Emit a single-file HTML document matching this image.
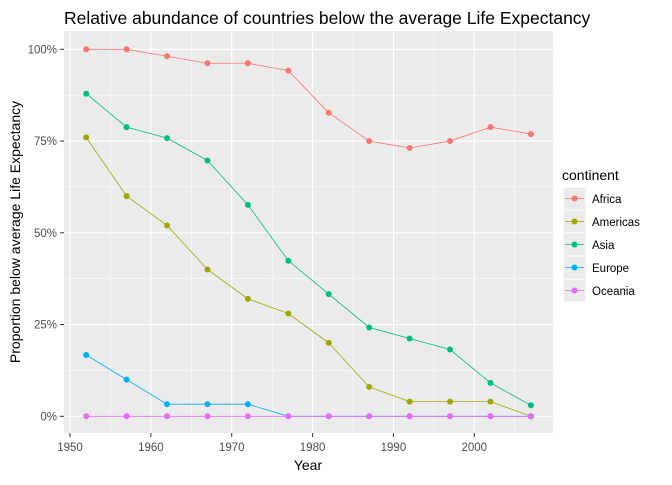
<!DOCTYPE html>
<html><head><meta charset="utf-8"><style>
body{margin:0;background:#fff;font-family:"Liberation Sans",Arial,sans-serif}
</style></head><body>
<svg id="chart" width="672" height="480" xmlns="http://www.w3.org/2000/svg">
<text x="64" y="24" font-size="17.5" fill="#000">Relative abundance of countries below the average Life Expectancy</text>
<rect x="64" y="31" width="489" height="402" fill="#EBEBEB"/>
<g id="grid"></g>
<g id="series"></g>
<g id="axes"></g>
<text x="308" y="470" font-size="14" text-anchor="middle">Year</text>
<text transform="translate(20,232) rotate(-90)" font-size="14" text-anchor="middle">Proportion below average Life Expectancy</text>
<text x="562" y="180" font-size="14">continent</text>
<g id="legend"></g>
</svg>
<script>
const years=[1952,1957,1962,1967,1972,1977,1982,1987,1992,1997,2002,2007];
const continents=["Africa","Americas","Asia","Europe","Oceania"];
const colors=["#F8766D","#A3A500","#00BF7D","#00B0F6","#E76BF3"];
const africa=[100,100,98.1,96.2,96.2,94.2,82.7,75,73.1,75,78.8,76.9];
const americas=[76,60,52,40,32,28,20,8,4,4,4,0];
const asia=[87.9,78.8,75.8,69.7,57.6,42.4,33.3,24.2,21.2,18.2,9.1,3.0];
const europe=[16.7,10,3.3,3.3,3.3,0,0,0,0,0,0,0];
const oceania=[0,0,0,0,0,0,0,0,0,0,0,0];
const seriesData=[africa,americas,asia,europe,oceania];
const xTicks=[1950,1960,1970,1980,1990,2000];
const yTicks=[0,25,50,75,100];
const xs=y=>70+(y-1950)*8.086;
const ys=v=>416.3-v*3.67;
const NS="http://www.w3.org/2000/svg";
function mk(tag,attrs,parent){const e=document.createElementNS(NS,tag);for(const k in attrs)e.setAttribute(k,attrs[k]);parent.appendChild(e);return e;}
const grid=document.getElementById('grid'),axes=document.getElementById('axes'),ser=document.getElementById('series'),leg=document.getElementById('legend');
for(let i=0;i<xTicks.length;i++){
 const t=xTicks[i];
 const l=mk('line',{x1:xs(t),x2:xs(t),y1:31,y2:433,stroke:'#fff','stroke-width':1.1},grid);
 
 
 const m=mk('line',{x1:xs(t+5),x2:xs(t+5),y1:31,y2:433,stroke:'#fff','stroke-width':0.5},grid);
 
 
 mk('line',{x1:xs(t),x2:xs(t),y1:433,y2:437,stroke:'#333'},axes);
 const tx=mk('text',{x:xs(t),y:451,'font-size':11.5,fill:'#4D4D4D','text-anchor':'middle'},axes);
 tx.textContent=t;
 
 
}
for(let i=0;i<yTicks.length;i++){
 const t=yTicks[i];
 const l=mk('line',{x1:64,x2:553,y1:ys(t),y2:ys(t),stroke:'#fff','stroke-width':1.1},grid);
 
 
 if(t<100){const m=mk('line',{x1:64,x2:553,y1:ys(t+12.5),y2:ys(t+12.5),stroke:'#fff','stroke-width':0.5},grid);
 
 }
 mk('line',{x1:60,x2:64,y1:ys(t),y2:ys(t),stroke:'#333'},axes);
 const tx=mk('text',{x:57,y:ys(t)+4,'font-size':11.5,fill:'#4D4D4D','text-anchor':'end'},axes);
 tx.textContent=t+'%';
 
 
}
seriesData.forEach((d,si)=>{
 const p=mk('polyline',{points:d.map((v,i)=>xs(years[i])+','+ys(v)).join(' '),fill:'none',stroke:colors[si],'stroke-width':0.8},ser);
 
 
 d.forEach((v,i)=>{
  const c=mk('circle',{cx:xs(years[i]),cy:ys(v),r:3,fill:colors[si]},ser);
  
  
 });
});
continents.forEach((n,i)=>{
 const y=187+i*23;
 const g=mk('g',{},leg);
 
 
 mk('rect',{x:563,y:y,width:23,height:23,fill:'#EBEBEB',stroke:'#fff'},g);
 mk('line',{x1:565,x2:584,y1:y+11.5,y2:y+11.5,stroke:colors[i],'stroke-width':0.8},g);
 mk('circle',{cx:574.5,cy:y+11.5,r:3,fill:colors[i]},g);
 const t=mk('text',{x:592,y:y+16,'font-size':11.5,fill:'#000'},g);
 t.textContent=n;
});
</script>
</body></html>
